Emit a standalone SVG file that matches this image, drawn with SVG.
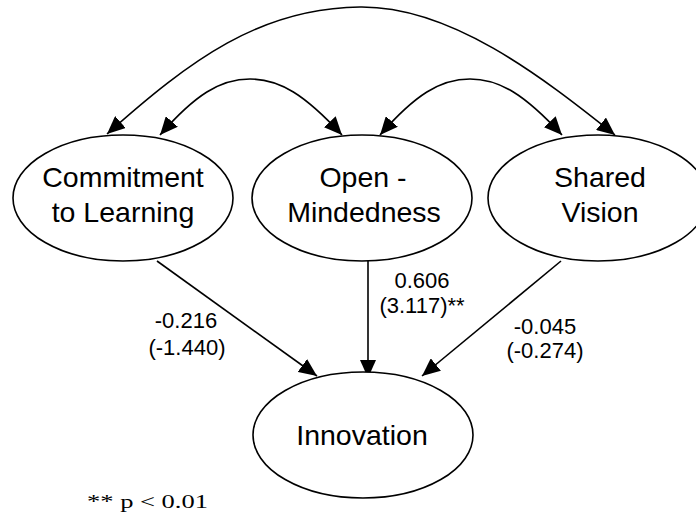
<svg xmlns="http://www.w3.org/2000/svg" width="696" height="517" viewBox="0 0 696 517">
<defs>
<marker id="ah" viewBox="0 0 18 16" refX="18" refY="8" markerWidth="18" markerHeight="16" markerUnits="userSpaceOnUse" orient="auto-start-reverse">
<path d="M0,0 L18,8 L0,16 z" fill="#000"/>
</marker>
<style>
.node ellipse{fill:#fff;stroke:#000;stroke-width:1.6}
.node text{font-family:"Liberation Sans",Arial,sans-serif;font-size:28.5px;fill:#000;text-anchor:middle}
.edges path,.edges line{fill:none;stroke:#000;stroke-width:1.6}
.lbl{font-family:"Liberation Sans",Arial,sans-serif;font-size:22px;fill:#000;text-anchor:middle}
.note{font-family:"Liberation Serif","Times New Roman",serif;font-size:18px;fill:#000}
</style>
</defs>
<rect width="696" height="517" fill="#fff"/>
<g id="edges" class="edges">
<path d="M107,134 C190,60 260,8 360,7 C450,6 540,75 615,135" marker-start="url(#ah)" marker-end="url(#ah)"/>
<path d="M160,135 C195,95 220,79 250,79 C280,79 305,95 342,135" marker-start="url(#ah)" marker-end="url(#ah)"/>
<path d="M380,135 C415,95 440,79 470,79 C500,79 525,95 562,135" marker-start="url(#ah)" marker-end="url(#ah)"/>
<line x1="157" y1="261" x2="317" y2="376" marker-end="url(#ah)"/>
<line x1="368" y1="261" x2="368" y2="378" marker-end="url(#ah)"/>
<line x1="561" y1="261" x2="422" y2="376" marker-end="url(#ah)"/>
</g>
<g id="node-commitment" class="node">
<ellipse cx="123" cy="198" rx="110" ry="63"/>
<text x="123" y="187">Commitment</text>
<text x="123" y="222">to Learning</text>
</g>
<g id="node-openmindedness" class="node">
<ellipse cx="362" cy="198" rx="110" ry="63"/>
<text x="363" y="187">Open -</text>
<text x="364" y="222">Mindedness</text>
</g>
<g id="node-sharedvision" class="node">
<ellipse cx="598" cy="198" rx="110" ry="63"/>
<text x="600" y="187">Shared</text>
<text x="600" y="222">Vision</text>
</g>
<g id="node-innovation" class="node">
<ellipse cx="363" cy="435" rx="110" ry="63"/>
<text x="362" y="445">Innovation</text>
</g>
<g id="labels">
<text class="lbl" x="186" y="328">-0.216</text>
<text class="lbl" x="187" y="355">(-1.440)</text>
<text class="lbl" x="422" y="288">0.606</text>
<text class="lbl" x="422" y="313">(3.117)**</text>
<text class="lbl" x="545" y="334">-0.045</text>
<text class="lbl" x="545" y="358">(-0.274)</text>
<text class="note" x="87" y="508" textLength="121" lengthAdjust="spacingAndGlyphs">** p &lt; 0.01</text>
</g>
</svg>
